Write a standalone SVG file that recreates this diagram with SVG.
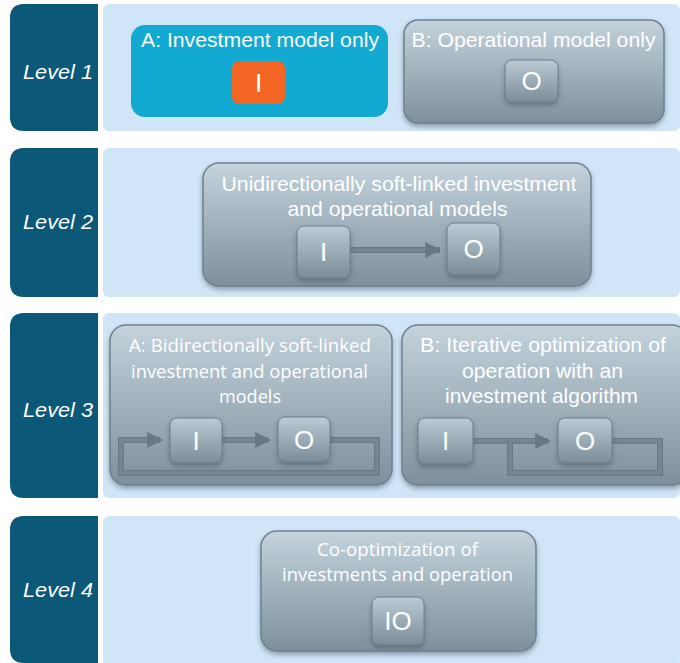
<svg xmlns="http://www.w3.org/2000/svg" width="680" height="663" viewBox="0 0 680 663">
<defs>
<linearGradient id="gBig" x1="0" y1="0" x2="0" y2="1">
<stop offset="0" stop-color="#c4d3dc"/><stop offset="1" stop-color="#7d909c"/>
</linearGradient>
<linearGradient id="gSmall" x1="0" y1="0" x2="0" y2="1">
<stop offset="0" stop-color="#bccbd4"/><stop offset="1" stop-color="#7a8d99"/>
</linearGradient>
<filter id="sh" x="-10%" y="-10%" width="120%" height="130%">
<feDropShadow dx="0" dy="3" stdDeviation="2.5" flood-color="#3c4c56" flood-opacity="0.45"/>
</filter>
<marker id="ah" markerWidth="4" markerHeight="4" refX="3.2" refY="2" orient="auto" markerUnits="strokeWidth">
<path d="M0,0 L4,2 L0,4 z" fill="#667984"/>
</marker>
</defs>
<style>
.tab{fill:#0b5878}
.panel{fill:#d0e5f7}
.lvl{font-family:"Liberation Sans",Arial,sans-serif;font-style:italic;font-size:20px;fill:#ffffff;text-anchor:middle}
.big{fill:url(#gBig);stroke:#6e818d;stroke-width:1.5;filter:url(#sh)}
.small{fill:url(#gSmall);stroke:#6b7e8a;stroke-width:1;filter:url(#sh)}
.tn{font-family:"Liberation Sans",Arial,sans-serif;font-size:21px;fill:#ffffff;text-anchor:middle}
.tc{font-family:"Open Sans","Liberation Sans",sans-serif;font-size:18px;fill:#ffffff;text-anchor:middle}
.let{font-family:"Liberation Sans",Arial,sans-serif;font-size:26px;fill:#ffffff;text-anchor:middle}
.conn{fill:none;stroke:#74878f;stroke-width:4}
.connOut{fill:none;stroke:#667984;stroke-width:6}
</style>

<g id="row1">
<path class="tab" d="M24,4 H98 V131 H24 Q10,131 10,117 V18 Q10,4 24,4 Z"/>
<rect class="panel" x="103" y="4" width="577" height="127" rx="6"/>
<text class="lvl" x="58" y="79" textLength="70" lengthAdjust="spacingAndGlyphs">Level 1</text>
</g>
<g id="row2">
<path class="tab" d="M24,148 H98 V297 H24 Q10,297 10,283 V162 Q10,148 24,148 Z"/>
<rect class="panel" x="103" y="148" width="577" height="149" rx="6"/>
<text class="lvl" x="58" y="229" textLength="70" lengthAdjust="spacingAndGlyphs">Level 2</text>
</g>
<g id="row3">
<path class="tab" d="M24,313 H98 V498 H24 Q10,498 10,484 V327 Q10,313 24,313 Z"/>
<rect class="panel" x="103" y="313" width="577" height="185" rx="6"/>
<text class="lvl" x="58" y="417" textLength="70" lengthAdjust="spacingAndGlyphs">Level 3</text>
</g>
<g id="row4">
<path class="tab" d="M24,516 H98 V663 H24 Q10,663 10,649 V530 Q10,516 24,516 Z"/>
<rect class="panel" x="103" y="516" width="577" height="150" rx="6"/>
<text class="lvl" x="58" y="597" textLength="70" lengthAdjust="spacingAndGlyphs">Level 4</text>
</g>

<g id="l1a">
<rect x="131" y="25" width="257" height="92" rx="14" fill="#12a9d3"/>
<text class="tn" x="260" y="47" textLength="238" lengthAdjust="spacingAndGlyphs">A: Investment model only</text>
<rect x="232" y="61" width="53" height="43" rx="7" fill="#f26522"/>
<text class="let" x="258.5" y="92">I</text>
</g>
<g id="l1b">
<rect class="big" x="404" y="20" width="260" height="103" rx="14"/>
<text class="tn" x="533.5" y="47" textLength="244" lengthAdjust="spacingAndGlyphs">B: Operational model only</text>
<rect class="small" x="505" y="60" width="53" height="42" rx="7"/>
<text class="let" x="531.5" y="90">O</text>
</g>

<g id="l2">
<rect class="big" x="203" y="163" width="388" height="123" rx="16"/>
<text class="tn" x="399" y="191" textLength="355" lengthAdjust="spacingAndGlyphs">Unidirectionally soft-linked investment</text>
<text class="tn" x="397.5" y="216" textLength="220" lengthAdjust="spacingAndGlyphs">and operational models</text>
</g>

<g id="l3a">
<rect class="big" x="110" y="325" width="282" height="160" rx="16"/>
<text class="tc" x="250" y="352" textLength="242" lengthAdjust="spacingAndGlyphs">A: Bidirectionally soft-linked</text>
<text class="tc" x="249.5" y="378" textLength="237" lengthAdjust="spacingAndGlyphs">investment and operational</text>
<text class="tc" x="250" y="403" textLength="62" lengthAdjust="spacingAndGlyphs">models</text>
</g>
<g id="l3b">
<rect class="big" x="402" y="325" width="286" height="160" rx="16"/>
<text class="tn" x="543" y="352" textLength="246" lengthAdjust="spacingAndGlyphs">B: Iterative optimization of</text>
<text class="tn" x="542.5" y="378" textLength="161" lengthAdjust="spacingAndGlyphs">operation with an</text>
<text class="tn" x="541.5" y="403" textLength="193" lengthAdjust="spacingAndGlyphs">investment algorithm</text>
</g>

<g id="l4">
<rect class="big" x="261" y="531" width="275" height="120" rx="16"/>
<text class="tc" x="397.5" y="556" textLength="161" lengthAdjust="spacingAndGlyphs">Co-optimization of</text>
<text class="tc" x="397.5" y="581" textLength="231" lengthAdjust="spacingAndGlyphs">investments and operation</text>
</g>

<g id="connectors">
<line class="connOut" x1="350" y1="250" x2="440" y2="250"/>
<line class="conn" x1="350" y1="250" x2="438" y2="250" marker-end="url(#ah)"/>
<path class="connOut" d="M330,440 H377 V473 H121 V440 H160"/>
<path class="conn" d="M330,440 H377 V473 H121 V440 H160" marker-end="url(#ah)"/>
<line class="connOut" x1="222" y1="440" x2="268" y2="440"/>
<line class="conn" x1="222" y1="440" x2="268" y2="440" marker-end="url(#ah)"/>
<line class="connOut" x1="473" y1="441" x2="548" y2="441"/>
<line class="conn" x1="473" y1="441" x2="548" y2="441" marker-end="url(#ah)"/>
<path class="connOut" d="M612,441 H660 V473 H510 V441"/>
<path class="conn" d="M612,441 H660 V473 H510 V441"/>
</g>

<g id="n2i"><rect class="small" x="297" y="226" width="53" height="52" rx="7"/><text class="let" x="323.5" y="261">I</text></g>
<g id="n2o"><rect class="small" x="447" y="223" width="53" height="52" rx="7"/><text class="let" x="473.5" y="258">O</text></g>
<g id="n3ai"><rect class="small" x="170" y="418" width="52" height="45" rx="7"/><text class="let" x="196" y="450">I</text></g>
<g id="n3ao"><rect class="small" x="278" y="417" width="52" height="45" rx="7"/><text class="let" x="304" y="449">O</text></g>
<g id="n3bi"><rect class="small" x="418" y="418" width="55" height="46" rx="7"/><text class="let" x="445.5" y="450">I</text></g>
<g id="n3bo"><rect class="small" x="558" y="418" width="54" height="45" rx="7"/><text class="let" x="585" y="450">O</text></g>
<g id="n4io"><rect class="small" x="372" y="597" width="52" height="48" rx="7"/><text class="let" x="398" y="630">IO</text></g>
</svg>
